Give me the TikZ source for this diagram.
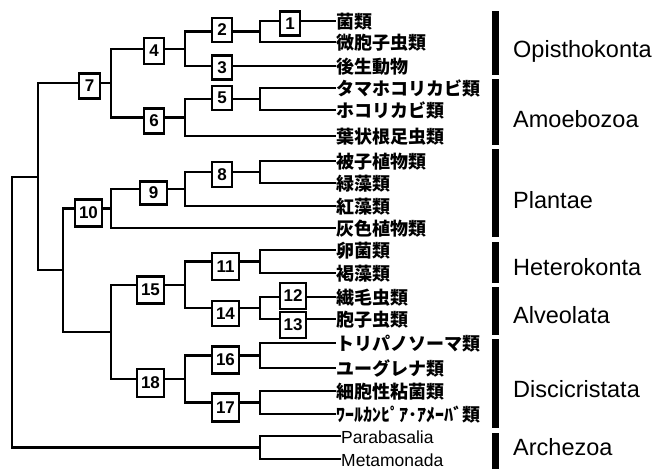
\documentclass[tikz,border=0pt]{standalone}
\usepackage{fontspec}
\setmainfont{Liberation Sans}
\newfontfamily\jpfont{Noto Sans CJK JP}
\begin{document}
\begin{tikzpicture}[x=1pt,y=-1pt,
  br/.style={line width=2.1pt},
  num/.style={draw,line width=2.3pt,fill=white,inner sep=0pt,font=\fontsize{17}{17}\selectfont\bfseries},
  nA/.style={num,minimum width=20pt,minimum height=24pt},
  nB/.style={num,minimum width=27pt,minimum height=27pt},
  leaf/.style={anchor=west,inner sep=0pt,text height=14pt,text depth=0pt,font=\jpfont\bfseries\fontsize{18}{18}\selectfont},
  lleaf/.style={anchor=west,inner sep=0pt,text height=14pt,text depth=0pt,font=\fontsize{17.5}{17.5}\selectfont},
  grp/.style={anchor=base west,inner sep=0pt,font=\fontsize{23.5}{23.5}\selectfont},
  bar/.style={fill=black}]
\useasboundingbox (0,0) rectangle (659,469);
% leaves
\node[leaf] (l1) at (336,21) {菌類};
\node[leaf] (l2) at (336,42) {微胞子虫類};
\node[leaf] (l3) at (336,66) {後生動物};
\node[leaf] (l4) at (336,88) {タマホコリカビ類};
\node[leaf] (l5) at (336,110) {ホコリカビ類};
\node[leaf] (l6) at (336,136) {葉状根足虫類};
\node[leaf] (l7) at (336,161) {被子植物類};
\node[leaf] (l8) at (336,183) {緑藻類};
\node[leaf] (l9) at (336,206) {紅藻類};
\node[leaf] (l10) at (336,228) {灰色植物類};
\node[leaf] (l11) at (336,250) {卵菌類};
\node[leaf] (l12) at (336,273) {褐藻類};
\node[leaf] (l13) at (336,297) {繊毛虫類};
\node[leaf] (l14) at (336,319) {胞子虫類};
\node[leaf] (l15) at (336,343) {トリパノソーマ類};
\node[leaf] (l16) at (336,368) {ユーグレナ類};
\node[leaf] (l17) at (336,391) {細胞性粘菌類};
\node[leaf] (l18) at (336,414) {ﾜｰﾙｶﾝﾋﾟｱ･ｱﾒｰﾊﾞ類};
\node[lleaf] (l19) at (341,436) {Parabasalia};
\node[lleaf] (l20) at (341,459) {Metamonada};
% junctions
\coordinate (ja) at (260,31.5);
\coordinate (jb) at (185,48.75);
\coordinate (jc) at (260,99);
\coordinate (jd) at (185,117.5);
\coordinate (je) at (111,83.1);
\coordinate (jf) at (260,172);
\coordinate (jg) at (185,189);
\coordinate (jh) at (111,208.5);
\coordinate (ji) at (260,261.5);
\coordinate (jk) at (260,308);
\coordinate (jm) at (185,284.75);
\coordinate (jn) at (260,355.5);
\coordinate (jo) at (260,402.5);
\coordinate (jp) at (185,379);
\coordinate (jq) at (111,331.9);
\coordinate (js) at (63,270.2);
\coordinate (jt) at (38,176.6);
\coordinate (ju) at (260,447.5);
\coordinate (jr) at (12,312);
% branches
\draw[br] (ja) |- (l1.west) (ja) |- (l2.west);
\draw[br] (jb) |- (ja) (jb) |- (l3.west);
\draw[br] (jc) |- (l4.west) (jc) |- (l5.west);
\draw[br] (jd) |- (jc) (jd) |- (l6.west);
\draw[br] (je) |- (jb) (je) |- (jd);
\draw[br] (jf) |- (l7.west) (jf) |- (l8.west);
\draw[br] (jg) |- (jf) (jg) |- (l9.west);
\draw[br] (jh) |- (jg) (jh) |- (l10.west);
\draw[br] (ji) |- (l11.west) (ji) |- (l12.west);
\draw[br] (jk) |- (l13.west) (jk) |- (l14.west);
\draw[br] (jm) |- (ji) (jm) |- (jk);
\draw[br] (jn) |- (l15.west) (jn) |- (l16.west);
\draw[br] (jo) |- (l17.west) (jo) |- (l18.west);
\draw[br] (jp) |- (jn) (jp) |- (jo);
\draw[br] (jq) |- (jm) (jq) |- (jp);
\draw[br] (js) |- (jh) (js) |- (jq);
\draw[br] (jt) |- (je) (jt) |- (js);
\draw[br] (ju) |- (l19.west) (ju) |- (l20.west);
\draw[br] (jr) |- (jt) (jr) |- (ju);
% numbered boxes
\node[nA] (b1) at (290,23.5) {1};
\node[nA] (b2) at (222,30) {2};
\node[nA] (b3) at (222,67.5) {3};
\node[nA,minimum height=26pt] (b4) at (154,51) {4};
\node[nA] (b5) at (222,98) {5};
\node[nA,minimum height=25pt] (b6) at (154,121) {6};
\node[nA,minimum width=21pt,minimum height=25pt] (b7) at (89.5,86) {7};
\node[nA,minimum height=25pt] (b8) at (222,174.5) {8};
\node[nB,minimum height=23pt] (b9) at (153.5,193) {9};
\node[nB] (b10) at (88.5,213) {10};
\node[nB] (b11) at (225.5,266.5) {11};
\node[nB,minimum width=26pt,minimum height=26pt] (b12) at (293,296) {12};
\node[nB,minimum width=26pt,minimum height=26pt] (b13) at (293,325) {13};
\node[nB,minimum height=25pt] (b14) at (225.5,313.5) {14};
\node[nB] (b15) at (150.5,290) {15};
\node[nB] (b16) at (225.5,360) {16};
\node[nB,minimum height=28pt] (b17) at (225.5,407.5) {17};
\node[nB,minimum height=28pt] (b18) at (150.5,383) {18};
% group bars
\fill[bar] (492,11) rectangle (499,75);
\fill[bar] (492,79) rectangle (499,145);
\fill[bar] (492,149) rectangle (499,237);
\fill[bar] (492,242) rectangle (499,283);
\fill[bar] (492,287) rectangle (499,335);
\fill[bar] (492,339) rectangle (499,428);
\fill[bar] (492,433) rectangle (499,469);
% group labels
\node[grp] (g1) at (513,57) {Opisthokonta};
\node[grp] (g2) at (513,127) {Amoebozoa};
\node[grp] (g3) at (513,208) {Plantae};
\node[grp] (g4) at (513,275) {Heterokonta};
\node[grp] (g5) at (513,323) {Alveolata};
\node[grp] (g6) at (513,397) {Discicristata};
\node[grp] (g7) at (513,455) {Archezoa};
\end{tikzpicture}
\end{document}
